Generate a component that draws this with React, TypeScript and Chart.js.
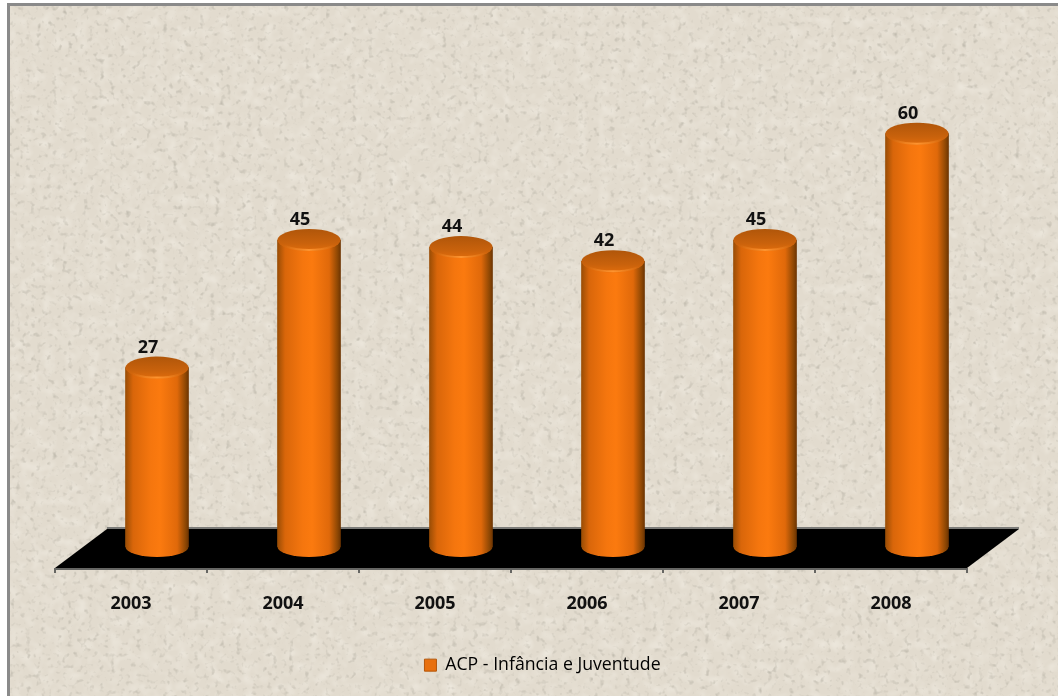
import React, { useEffect, useRef } from "react";
import { Chart, registerables } from "chart.js";

Chart.register(...registerables);

const categories = ["2003", "2004", "2005", "2006", "2007", "2008"];
const seriesName = "ACP - Infância e Juventude";
const seriesValues = [27, 45, 44, 42, 45, 60];

const FONT = '"Open Sans", "Noto Sans", sans-serif';

const noise =
  "data:image/svg+xml;utf8," +
  encodeURIComponent(
    `<svg xmlns='http://www.w3.org/2000/svg' width='1058' height='696'>
      <filter id='n' x='0' y='0' width='100%' height='100%'>
        <feTurbulence type='fractalNoise' baseFrequency='0.19' numOctaves='2' seed='7'/>
        <feColorMatrix values='0 0 0 0 0.50  0 0 0 0 0.47  0 0 0 0 0.40  1.5 1.5 0 0 -1.62'/>
      </filter>
      <filter id='m' x='0' y='0' width='100%' height='100%'>
        <feTurbulence type='fractalNoise' baseFrequency='0.09' numOctaves='2' seed='3'/>
        <feColorMatrix values='0 0 0 0 1  0 0 0 0 0.98  0 0 0 0 0.92  0.45 0.45 0 0 -0.4'/>
      </filter>
      <rect width='1058' height='696' fill='#e2dbce'/>
      <rect width='1058' height='696' filter='url(#m)'/>
      <rect width='1058' height='696' filter='url(#n)'/>
    </svg>`
  );

function cylinderGradient(ctx: CanvasRenderingContext2D, cx: number, halfW: number) {
  const g = ctx.createLinearGradient(cx - halfW, 0, cx + halfW, 0);
  g.addColorStop(0, "#9a4d05");
  g.addColorStop(0.12, "#d9660a");
  g.addColorStop(0.4, "#f5760e");
  g.addColorStop(0.55, "#fb7a0f");
  g.addColorStop(0.82, "#e0690a");
  g.addColorStop(0.95, "#8f4804");
  g.addColorStop(1, "#6e3502");
  return g;
}

const BAR_W = 63;
const RY = 11;

const floorPlugin = {
  id: "floor",
  afterLayout(chart: any) {
    // the legend sits a little right of the plot's centre in the reference
    chart.legend.left += 5.5;
    chart.legend.right += 5.5;
  },
  beforeDatasetsDraw(chart: any) {
    const { ctx, chartArea: a } = chart;
    const frontY = a.bottom + 21;
    const backY = a.bottom - 18;
    const frontL = a.left - 26;
    const frontR = a.right - 26;
    ctx.save();
    ctx.fillStyle = "#000";
    ctx.beginPath();
    ctx.moveTo(frontL, frontY);
    ctx.lineTo(frontL + 52, backY);
    ctx.lineTo(frontR + 52, backY);
    ctx.lineTo(frontR, frontY);
    ctx.closePath();
    ctx.fill();
    ctx.strokeStyle = "#7b7b78";
    ctx.lineWidth = 2;
    ctx.beginPath();
    ctx.moveTo(frontL + 52, backY - 1);
    ctx.lineTo(frontR + 52, backY - 1);
    ctx.stroke();
    ctx.strokeStyle = "#666663";
    ctx.beginPath();
    ctx.moveTo(frontL, frontY + 1);
    ctx.lineTo(frontR, frontY + 1);
    ctx.stroke();
    const step = (a.right - a.left) / categories.length;
    categories.concat("").forEach((_: string, i: number) => {
      const tx = frontL + i * step;
      ctx.beginPath();
      ctx.moveTo(tx, frontY);
      ctx.lineTo(tx, frontY + 5);
      ctx.stroke();
    });
    ctx.restore();
  },
  afterDatasetsDraw(chart: any) {
    const { ctx, chartArea: a } = chart;
    const meta = chart.getDatasetMeta(0);
    ctx.save();
    meta.data.forEach((el: any, i: number) => {
      const cx = el.x;
      const hw = BAR_W / 2;
      // bottom cap
      ctx.fillStyle = cylinderGradient(ctx, cx, hw);
      ctx.beginPath();
      ctx.ellipse(cx, a.bottom, hw, 10, 0, 0, Math.PI);
      ctx.fill();
      // top cap
      const tg = ctx.createLinearGradient(0, el.y - RY, 0, el.y + RY);
      tg.addColorStop(0, "#b0560a");
      tg.addColorStop(0.65, "#c9620c");
      tg.addColorStop(1, "#e06c0c");
      ctx.fillStyle = tg;
      ctx.beginPath();
      ctx.ellipse(cx, el.y, hw, RY, 0, 0, Math.PI * 2);
      ctx.fill();
      // highlight along the front rim of the cap
      const hl = ctx.createLinearGradient(cx - hw, 0, cx + hw, 0);
      hl.addColorStop(0.1, "rgba(255,150,50,0)");
      hl.addColorStop(0.5, "rgba(255,150,50,0.95)");
      hl.addColorStop(0.9, "rgba(255,150,50,0)");
      ctx.strokeStyle = hl;
      ctx.lineWidth = 2;
      ctx.beginPath();
      ctx.ellipse(cx, el.y, hw - 1, RY - 1, 0, 0, Math.PI);
      ctx.stroke();
      // value label
      ctx.fillStyle = "#111";
      ctx.font = `700 18px ${FONT}`;
      ctx.textAlign = "center";
      ctx.textBaseline = "middle";
      ctx.fillText(String(seriesValues[i]), cx - 9, el.y - 20);
    });
    ctx.restore();
  },
};

export default function App() {
  const ref = useRef<HTMLCanvasElement>(null);
  useEffect(() => {
    const chart = new Chart(ref.current!, {
      type: "bar",
      data: {
        labels: categories,
        datasets: [
          {
            label: seriesName,
            data: seriesValues,
            barThickness: BAR_W,
            borderWidth: 0,
            backgroundColor: (c: any) => {
              const xs = c.chart.scales?.x;
              if (!xs || c.dataIndex === undefined) return "#e8700f";
              return cylinderGradient(c.chart.ctx, xs.getPixelForValue(c.dataIndex), BAR_W / 2);
            },
          },
        ],
      },
      options: {
        responsive: false,
        animation: false,
        layout: { padding: { left: 81, right: 65, top: 6, bottom: 12 } },
        plugins: {
          tooltip: { enabled: false },
          title: { display: false },
          legend: {
            display: true,
            position: "bottom",
            labels: {
              boxWidth: 12,
              boxHeight: 12,
              padding: 10,
              color: "#1c1c1c",
              font: { family: FONT, size: 17.7 },
              generateLabels: () => [
                {
                  text: seriesName,
                  fillStyle: "#e8700f",
                  strokeStyle: "#b4560a",
                  lineWidth: 1,
                  datasetIndex: 0,
                },
              ],
            },
          },
        },
        scales: {
          x: {
            offset: true,
            grid: { display: false },
            border: { display: false },
            afterFit: (s: any) => {
              s.height = 99.3;
            },
            ticks: {
              autoSkip: false,
              maxRotation: 0,
              labelOffset: -26,
              padding: 38,
              color: "#111",
              font: { family: FONT, size: 18, weight: "bold" },
            },
          },
          y: {
            display: false,
            min: 1.7,
            max: 78,
            grid: { display: false },
          },
        },
      },
      plugins: [floorPlugin],
    } as any);
    return () => chart.destroy();
  }, []);
  return (
    <div
      style={{
        position: "absolute",
        left: 0,
        top: 0,
        width: 1058,
        height: 696,
        background: "#fff",
        overflow: "hidden",
      }}
    >
      <div
        style={{
          position: "absolute",
          left: 7,
          top: 3,
          width: 1060,
          height: 700,
          borderLeft: "3px solid #8a8a8a",
          borderTop: "3px solid #8a8a8a",
          backgroundImage: `url("${noise}")`,
        }}
      />
      <canvas
        ref={ref}
        width={1058}
        height={696}
        style={{ position: "absolute", left: 0, top: 0, filter: "blur(0.6px)" }}
      />
    </div>
  );
}
